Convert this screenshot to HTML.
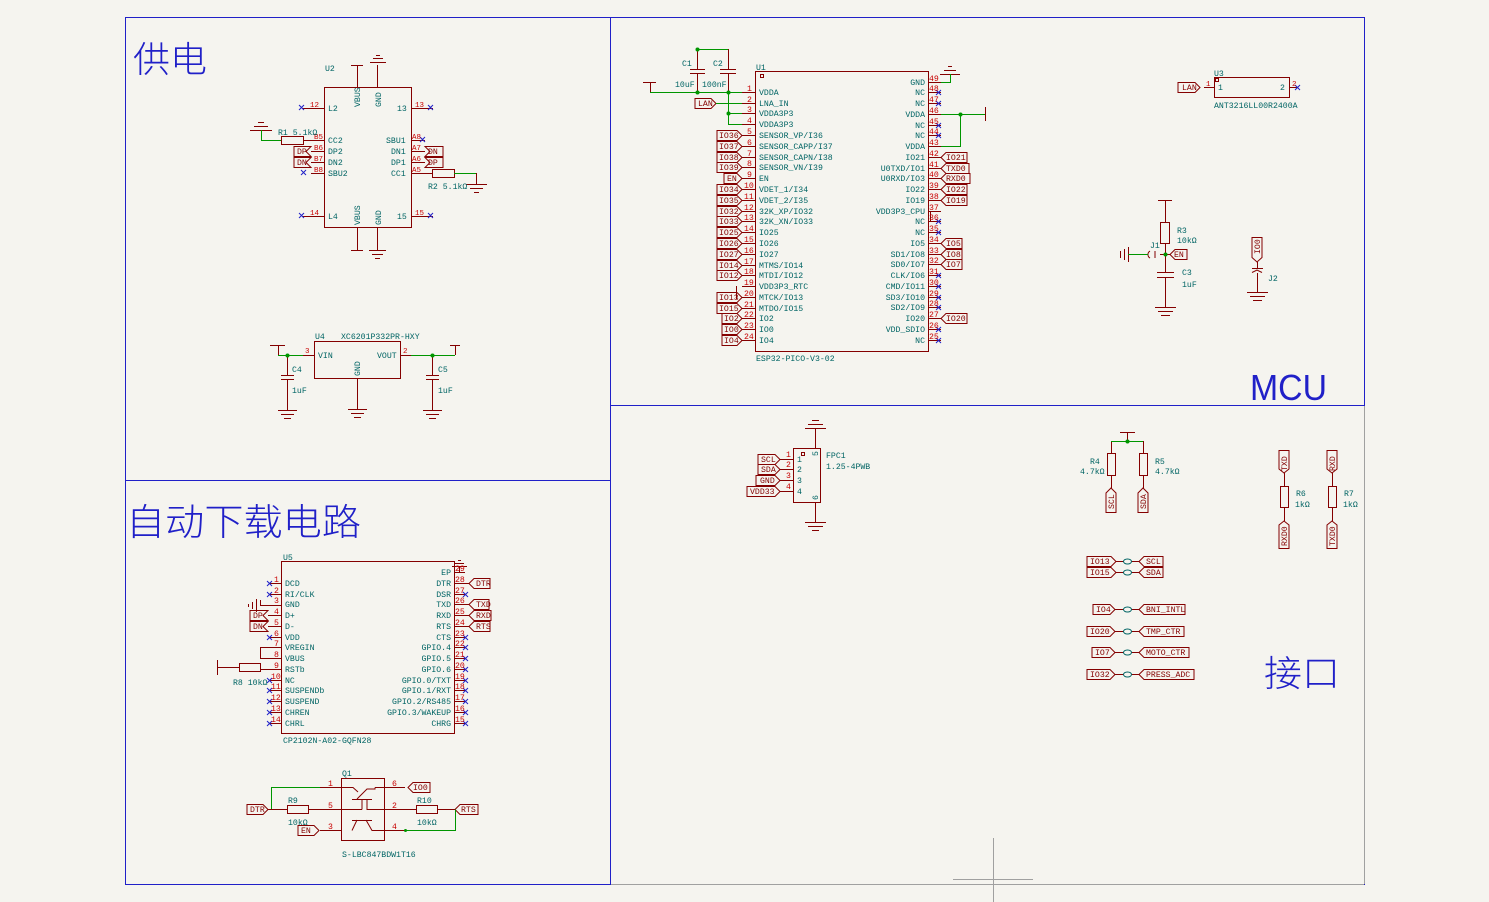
<!DOCTYPE html>
<html><head><meta charset="utf-8"><style>
html,body{margin:0;padding:0;background:#f5f4ef}
svg{display:block}
.o{stroke:#840000;fill:none;stroke-width:1}
.b{stroke:#840000;fill:#f5f4ef;stroke-width:1}
.w{stroke:#009600;fill:none;stroke-width:1}
.f{stroke:#2020c8;fill:none;stroke-width:1}
.g{stroke:#a0a0a0;fill:none;stroke-width:1}
.x{stroke:#2020c8;stroke-width:1}
text{font-family:"Liberation Mono",monospace;font-size:8.2px}
.t{fill:#006464}
.n{fill:#c80000;font-size:7.5px}
.r{fill:#840000}
.T{fill:#2020c8;font-family:"Liberation Sans","Noto Sans CJK SC",sans-serif;font-weight:300}
</style></head><body>
<svg width="1489" height="902" viewBox="0 0 1489 902" xmlns="http://www.w3.org/2000/svg">
<rect width="1489" height="902" fill="#f5f4ef"/>
<!-- frames -->
<rect class="f" x="125.5" y="17.5" width="1239" height="867"/>
<line class="f" x1="610.5" y1="17" x2="610.5" y2="884"/>
<line class="f" x1="125" y1="480.5" x2="610" y2="480.5"/>
<line class="f" x1="610" y1="405.5" x2="1364" y2="405.5"/>
<line class="g" x1="611" y1="884.5" x2="1364" y2="884.5"/>
<line class="g" x1="1364.5" y1="406" x2="1364.5" y2="884"/>
<line class="g" x1="993.5" y1="838" x2="993.5" y2="902"/>
<line class="g" x1="953" y1="879.5" x2="1033" y2="879.5"/>
<text class="T" x="133" y="72" textLength="74" lengthAdjust="spacingAndGlyphs" style="font-size:36px">供电</text>
<text class="T" x="126" y="535" textLength="235" lengthAdjust="spacingAndGlyphs" style="font-size:37px">自动下载电路</text>
<text class="T" x="1250" y="400" textLength="77" lengthAdjust="spacingAndGlyphs" style="font-size:36px">MCU</text>
<text class="T" x="1264" y="686" textLength="76" lengthAdjust="spacingAndGlyphs" style="font-size:36px">接口</text>

<!-- ===== U2 USB-C ===== -->
<rect class="b" x="324.5" y="87.5" width="87" height="140"/>
<text class="t" x="325" y="71">U2</text>
<g class="o">
<path d="M302,108.5H324M302,216.5H324M411,108.5H433M411,216.5H433"/>
<path d="M303,140.5H324M311,151.5H324M311,162.5H324M311,173.5H324M411,140.5H425M411,151.5H425M411,162.5H425M411,173.5H432"/>
<path d="M357.5,65V87M377.5,65V87M357.5,227V250M377.5,227V250"/>
<path d="M351,65.5H363M370,62.5H386M373,58.5H383M376,55.5H380"/>
<path d="M351,250.5H363M369,250.5H386M372,254.5H383M375,258.5H380"/>
<rect x="281.5" y="136.5" width="22" height="8"/><rect x="432.5" y="169.5" width="22" height="8"/>
<path d="M250,130.5H272M254,126.5H268M258,122.5H264M476.5,173V184M466,184.5H487M470,188.5H483M474,192.5H479"/>
<path d="M311,146.5H294V156.5H311L306,151.5ZM311,157.5H294V167.5H311L306,162.5ZM425,146.5H443V156.5H425L430,151.5ZM425,157.5H443V167.5H425L430,162.5Z"/>
</g>
<path class="w" d="M261.5,130V140.5H281"/><path class="w" d="M454,173.5H476"/>
<g class="x"><path d="M299,105l5,5M304,105l-5,5M299,213l5,5M304,213l-5,5M428,105l5,5M433,105l-5,5M428,213l5,5M433,213l-5,5M301,170l5,5M306,170l-5,5M420,137l5,5M425,137l-5,5"/></g>
<text class="t" x="328" y="111">L2</text><text class="t" x="328" y="219">L4</text>
<text class="t" x="397" y="111">13</text><text class="t" x="397" y="219">15</text>
<text class="t" x="328" y="143">CC2</text><text class="t" x="328" y="154">DP2</text><text class="t" x="328" y="165">DN2</text><text class="t" x="328" y="176">SBU2</text>
<text class="t" x="386" y="143">SBU1</text><text class="t" x="391" y="154">DN1</text><text class="t" x="391" y="165">DP1</text><text class="t" x="391" y="176">CC1</text>
<text class="t" transform="translate(360,107) rotate(-90)">VBUS</text><text class="t" transform="translate(381,107) rotate(-90)">GND</text>
<text class="t" transform="translate(360,225) rotate(-90)">VBUS</text><text class="t" transform="translate(381,225) rotate(-90)">GND</text>
<text class="r" x="297" y="154">DP</text><text class="r" x="297" y="165">DN</text><text class="r" x="428" y="154">DN</text><text class="r" x="428" y="165">DP</text>
<text class="n" x="310" y="107">12</text><text class="n" x="310" y="215">14</text><text class="n" x="415" y="107">13</text><text class="n" x="415" y="215">15</text>
<text class="n" x="314" y="139">B5</text><text class="n" x="314" y="150">B6</text><text class="n" x="314" y="161">B7</text><text class="n" x="314" y="172">B8</text>
<text class="n" x="412" y="139">A8</text><text class="n" x="412" y="150">A7</text><text class="n" x="412" y="161">A6</text><text class="n" x="412" y="172">A5</text>
<text class="t" x="278" y="135">R1 5.1kΩ</text><text class="t" x="428" y="189">R2 5.1kΩ</text>

<!-- ===== U4 LDO ===== -->
<rect class="b" x="314.5" y="341.5" width="86" height="37"/>
<text class="t" x="315" y="339">U4</text><text class="t" x="341" y="339">XC6201P332PR-HXY</text>
<text class="t" x="318" y="358">VIN</text><text class="t" x="377" y="358">VOUT</text>
<text class="t" transform="translate(360,376) rotate(-90)">GND</text>
<text class="n" x="305" y="353">3</text><text class="n" x="403" y="353">2</text>
<g class="o">
<path d="M303,355.5H314M400,355.5H411M357.5,378V409M348,409.5H367M351,413.5H364M354,417.5H361"/>
<path d="M287.5,355V375M281,375.5H294M281,379.5H294M287.5,379V410M278,410.5H297M281,414.5H294M284,418.5H291"/>
<path d="M432.5,355V375M426,375.5H439M426,379.5H439M432.5,379V410M423,410.5H442M426,414.5H439M429,418.5H436"/>
<path d="M270,345.5H285M278.5,345V355M450,345.5H460M455.5,345V355"/>
</g>
<path class="w" d="M278,355.5H303M411,355.5H455"/>
<circle cx="287.5" cy="355.5" r="2" fill="#009600"/><circle cx="432.5" cy="355.5" r="2" fill="#009600"/>
<text class="t" x="292" y="372">C4</text><text class="t" x="292" y="393">1uF</text><text class="t" x="438" y="372">C5</text><text class="t" x="438" y="393">1uF</text>

<!-- ===== U5 CP2102 ===== -->
<rect class="b" x="281.5" y="561.5" width="173" height="172"/>
<text class="t" x="283" y="560">U5</text><text class="t" x="283" y="743">CP2102N-A02-GQFN28</text>
<g class="o">
<path d="M270,583.5H281M270,594.5H281M260,605.5H281M268,615.5H281M268,626.5H281M270,637.5H281M260,647.5H281M260,658.5H281M260,669.5H281M270,680.5H281M270,690.5H281M270,701.5H281M270,712.5H281M270,723.5H281"/>
<path d="M454,572.5H465M454,583.5H469M454,594.5H465M454,604.5H469M454,615.5H469M454,626.5H469M454,637.5H465M454,647.5H465M454,658.5H465M454,669.5H465M454,680.5H465M454,690.5H465M454,701.5H465M454,712.5H465M454,723.5H465"/>
<path d="M260.5,647V659M260.5,605V600M256.5,599V612M252.5,602V609M248.5,604V607"/>
<path d="M459.5,572V566M452,566.5H467M455,563.5H464M458,560.5H461"/>
<rect x="239.5" y="663.5" width="21" height="8"/><path d="M217,667.5H239M217.5,660V675"/>
<path d="M268,610.5H250V620.5H268L263,615.5ZM268,621.5H250V631.5H268L263,626.5Z"/>
<path d="M469,583.5L474,578.5H490V588.5H474ZM469,604.5L474,599.5H489V609.5H474ZM469,615.5L474,610.5H491V620.5H474ZM469,626.5L474,621.5H490V631.5H474Z"/>
</g>
<g class="x"><path d="M267,581l5,5M272,581l-5,5M267,592l5,5M272,592l-5,5M267,635l5,5M272,635l-5,5M267,678l5,5M272,678l-5,5M267,688l5,5M272,688l-5,5M267,699l5,5M272,699l-5,5M267,710l5,5M272,710l-5,5M267,721l5,5M272,721l-5,5M463,592l5,5M468,592l-5,5M463,635l5,5M468,635l-5,5M463,645l5,5M468,645l-5,5M463,656l5,5M468,656l-5,5M463,667l5,5M468,667l-5,5M463,678l5,5M468,678l-5,5M463,688l5,5M468,688l-5,5M463,699l5,5M468,699l-5,5M463,710l5,5M468,710l-5,5M463,721l5,5M468,721l-5,5"/></g>
<g class="t">
<text x="285" y="586">DCD</text><text x="285" y="597">RI/CLK</text><text x="285" y="607">GND</text><text x="285" y="618">D+</text><text x="285" y="629">D-</text><text x="285" y="640">VDD</text><text x="285" y="650">VREGIN</text><text x="285" y="661">VBUS</text><text x="285" y="672">RSTb</text><text x="285" y="683">NC</text><text x="285" y="693">SUSPENDb</text><text x="285" y="704">SUSPEND</text><text x="285" y="715">CHREN</text><text x="285" y="726">CHRL</text>
</g>
<g class="t" text-anchor="end">
<text x="451" y="575">EP</text><text x="451" y="586">DTR</text><text x="451" y="597">DSR</text><text x="451" y="607">TXD</text><text x="451" y="618">RXD</text><text x="451" y="629">RTS</text><text x="451" y="640">CTS</text><text x="451" y="650">GPIO.4</text><text x="451" y="661">GPIO.5</text><text x="451" y="672">GPIO.6</text><text x="451" y="683">GPIO.0/TXT</text><text x="451" y="693">GPIO.1/RXT</text><text x="451" y="704">GPIO.2/RS485</text><text x="451" y="715">GPIO.3/WAKEUP</text><text x="451" y="726">CHRG</text>
</g>
<g class="n">
<text x="274" y="582">1</text><text x="274" y="593">2</text><text x="274" y="603">3</text><text x="274" y="614">4</text><text x="274" y="625">5</text><text x="274" y="636">6</text><text x="274" y="646">7</text><text x="274" y="657">8</text><text x="274" y="668">9</text><text x="271" y="679">10</text><text x="271" y="689">11</text><text x="271" y="700">12</text><text x="271" y="711">13</text><text x="271" y="722">14</text>
<text x="455" y="571">29</text><text x="455" y="582">28</text><text x="455" y="593">27</text><text x="455" y="603">26</text><text x="455" y="614">25</text><text x="455" y="625">24</text><text x="455" y="636">23</text><text x="455" y="646">22</text><text x="455" y="657">21</text><text x="455" y="668">20</text><text x="455" y="679">19</text><text x="455" y="689">18</text><text x="455" y="700">17</text><text x="455" y="711">16</text><text x="455" y="722">15</text>
</g>
<g class="r"><text x="253" y="618">DP</text><text x="253" y="629">DN</text><text x="476" y="586">DTR</text><text x="476" y="607">TXD</text><text x="476" y="618">RXD</text><text x="476" y="629">RTS</text></g>
<text class="t" x="233" y="685">R8 10kΩ</text>

<!-- ===== Q1 ===== -->
<rect class="b" x="341.5" y="778.5" width="43" height="62"/>
<text class="t" x="342" y="776">Q1</text><text class="t" x="342" y="857">S-LBC847BDW1T16</text>
<g class="o">
<path d="M320,787.5H341M320,809.5H341M320,830.5H341M384,787.5H405M384,809.5H405M384,830.5H405"/>
<path d="M341,787.5H353L358,792M352,799.5H372M357,799L367,789H375V787.5M362,799.5V809.5M362,809.5H341"/>
<path d="M352,820.5H372M357,820L352,830.5M366,820L372,830.5H384M375,787.5H384M367,799.5V809.5H384"/>
<rect x="287.5" y="805.5" width="21" height="8"/><rect x="416.5" y="805.5" width="21" height="8"/>
<path d="M247,804.5H263L268,809.5L263,814.5H247ZM298,825.5H314L319,830.5L314,835.5H298ZM408,787.5L413,782.5H430V792.5H413ZM455,809.5L460,804.5H478V814.5H460Z"/>
<path d="M268,809.5H287M308,809.5H320M405,809.5H416M437,809.5H455"/>
</g>
<path class="w" d="M271.5,809V787.5H320M455.5,809.5V830.5H405"/>
<circle cx="405.5" cy="830.5" r="1.5" fill="#009600"/>
<g class="n"><text x="328" y="786">1</text><text x="328" y="808">5</text><text x="328" y="829">3</text><text x="392" y="786">6</text><text x="392" y="808">2</text><text x="392" y="829">4</text></g>
<g class="r"><text x="250" y="812">DTR</text><text x="301" y="833">EN</text><text x="413" y="790">IO0</text><text x="461" y="812">RTS</text></g>
<text class="t" x="288" y="803">R9</text><text class="t" x="288" y="825">10kΩ</text><text class="t" x="417" y="803">R10</text><text class="t" x="417" y="825">10kΩ</text>

<!-- ===== U1 ESP32 ===== -->
<rect class="b" x="755.5" y="71.5" width="173" height="280"/>
<rect class="o" x="760.5" y="74.5" width="3" height="3"/>
<text class="t" x="756" y="70">U1</text><text class="t" x="756" y="361">ESP32-PICO-V3-02</text>
<g class="o">
<path d="M742,92.5H755M742,103.5H755M742,113.5H755M742,124.5H755M742,135.5H755M742,146.5H755M742,157.5H755M742,167.5H755M742,178.5H755M742,189.5H755M742,200.5H755M742,211.5H755M742,221.5H755M742,232.5H755M742,243.5H755M742,254.5H755M742,265.5H755M742,275.5H755M742,286.5H755M742,297.5H755M742,308.5H755M742,318.5H755M742,329.5H755M742,340.5H755"/>
<path d="M928,82.5H941M928,92.5H941M928,103.5H941M928,114.5H941M928,125.5H941M928,135.5H941M928,146.5H941M928,157.5H941M928,168.5H941M928,178.5H941M928,189.5H941M928,200.5H941M928,211.5H941M928,221.5H941M928,232.5H941M928,243.5H941M928,254.5H941M928,264.5H941M928,275.5H941M928,286.5H941M928,297.5H941M928,307.5H941M928,318.5H941M928,329.5H941M928,340.5H941"/>
<path d="M930.5,211V222M736.5,286V299"/>
<path d="M717,130.5H737L742,135.5L737,140.5H717ZM717,141.5H737L742,146.5L737,151.5H717ZM717,152.5H737L742,157.5L737,162.5H717ZM717,162.5H737L742,167.5L737,172.5H717ZM724,173.5H737L742,178.5L737,183.5H724ZM717,184.5H737L742,189.5L737,194.5H717ZM717,195.5H737L742,200.5L737,205.5H717ZM717,206.5H737L742,211.5L737,216.5H717ZM717,216.5H737L742,221.5L737,226.5H717ZM717,227.5H737L742,232.5L737,237.5H717ZM717,238.5H737L742,243.5L737,248.5H717ZM717,249.5H737L742,254.5L737,259.5H717ZM717,260.5H737L742,265.5L737,270.5H717ZM717,270.5H737L742,275.5L737,280.5H717ZM717,292.5H737L742,297.5L737,302.5H717ZM717,303.5H737L742,308.5L737,313.5H717ZM722,313.5H737L742,318.5L737,323.5H722ZM722,324.5H737L742,329.5L737,334.5H722ZM722,335.5H737L742,340.5L737,345.5H722Z"/>
<path d="M695,98.5H711L716,103.5L711,108.5H695Z"/>
<path d="M941,157.5L946,152.5H967V162.5H946ZM941,168.5L946,163.5H969V173.5H946ZM941,178.5L946,173.5H970V183.5H946ZM941,189.5L946,184.5H967V194.5H946ZM941,200.5L946,195.5H967V205.5H946ZM941,243.5L946,238.5H962V248.5H946ZM941,254.5L946,249.5H962V259.5H946ZM941,264.5L946,259.5H962V269.5H946ZM941,318.5L946,313.5H967V323.5H946Z"/>
<path d="M690,69.5H705M690,73.5H705M720,69.5H736M720,73.5H736M697.5,49V69M697.5,73V92M728.5,49V69M728.5,73V92"/>
<path d="M643,82.5H656M650.5,82V92M940,74.5H960M944,70.5H956M948,66.5H952M985.5,107V121"/>
</g>
<path class="w" d="M697,49.5H728M650,92.5H742M728.5,92V124.5M728,113.5H742M728,124.5H742M716,103.5H742M941,82.5H950.5V74M941,114.5H985M960.5,114V146.5H941"/>
<g fill="#009600"><circle cx="697.5" cy="92.5" r="2"/><circle cx="728.5" cy="92.5" r="2"/><circle cx="728.5" cy="113.5" r="2"/><circle cx="697.5" cy="49.5" r="2"/><circle cx="960.5" cy="114.5" r="2"/></g>
<g class="x"><path d="M936,90l5,5M941,90l-5,5M936,101l5,5M941,101l-5,5M936,123l5,5M941,123l-5,5M936,133l5,5M941,133l-5,5M936,219l5,5M941,219l-5,5M936,230l5,5M941,230l-5,5M936,273l5,5M941,273l-5,5M936,284l5,5M941,284l-5,5M936,295l5,5M941,295l-5,5M936,305l5,5M941,305l-5,5M936,327l5,5M941,327l-5,5M936,338l5,5M941,338l-5,5"/></g>
<text class="t" x="682" y="66">C1</text><text class="t" x="713" y="66">C2</text><text class="t" x="675" y="87">10uF</text><text class="t" x="702" y="87">100nF</text>
<g class="t">
<text x="759" y="95">VDDA</text><text x="759" y="106">LNA_IN</text><text x="759" y="116">VDDA3P3</text><text x="759" y="127">VDDA3P3</text><text x="759" y="138">SENSOR_VP/I36</text><text x="759" y="149">SENSOR_CAPP/I37</text><text x="759" y="160">SENSOR_CAPN/I38</text><text x="759" y="170">SENSOR_VN/I39</text><text x="759" y="181">EN</text><text x="759" y="192">VDET_1/I34</text><text x="759" y="203">VDET_2/I35</text><text x="759" y="214">32K_XP/IO32</text><text x="759" y="224">32K_XN/IO33</text><text x="759" y="235">IO25</text><text x="759" y="246">IO26</text><text x="759" y="257">IO27</text><text x="759" y="268">MTMS/IO14</text><text x="759" y="278">MTDI/IO12</text><text x="759" y="289">VDD3P3_RTC</text><text x="759" y="300">MTCK/IO13</text><text x="759" y="311">MTDO/IO15</text><text x="759" y="321">IO2</text><text x="759" y="332">IO0</text><text x="759" y="343">IO4</text>
</g>
<g class="t" text-anchor="end">
<text x="925" y="85">GND</text><text x="925" y="95">NC</text><text x="925" y="106">NC</text><text x="925" y="117">VDDA</text><text x="925" y="128">NC</text><text x="925" y="138">NC</text><text x="925" y="149">VDDA</text><text x="925" y="160">IO21</text><text x="925" y="171">U0TXD/IO1</text><text x="925" y="181">U0RXD/IO3</text><text x="925" y="192">IO22</text><text x="925" y="203">IO19</text><text x="925" y="214">VDD3P3_CPU</text><text x="925" y="224">NC</text><text x="925" y="235">NC</text><text x="925" y="246">IO5</text><text x="925" y="257">SD1/IO8</text><text x="925" y="267">SD0/IO7</text><text x="925" y="278">CLK/IO6</text><text x="925" y="289">CMD/IO11</text><text x="925" y="300">SD3/IO10</text><text x="925" y="310">SD2/IO9</text><text x="925" y="321">IO20</text><text x="925" y="332">VDD_SDIO</text><text x="925" y="343">NC</text>
</g>
<g class="n">
<text x="747" y="91">1</text><text x="747" y="102">2</text><text x="747" y="112">3</text><text x="747" y="123">4</text><text x="747" y="134">5</text><text x="747" y="145">6</text><text x="747" y="156">7</text><text x="747" y="166">8</text><text x="747" y="177">9</text><text x="744" y="188">10</text><text x="744" y="199">11</text><text x="744" y="210">12</text><text x="744" y="220">13</text><text x="744" y="231">14</text><text x="744" y="242">15</text><text x="744" y="253">16</text><text x="744" y="264">17</text><text x="744" y="274">18</text><text x="744" y="285">19</text><text x="744" y="296">20</text><text x="744" y="307">21</text><text x="744" y="317">22</text><text x="744" y="328">23</text><text x="744" y="339">24</text>
<text x="929" y="81">49</text><text x="929" y="91">48</text><text x="929" y="102">47</text><text x="929" y="113">46</text><text x="929" y="124">45</text><text x="929" y="134">44</text><text x="929" y="145">43</text><text x="929" y="156">42</text><text x="929" y="167">41</text><text x="929" y="177">40</text><text x="929" y="188">39</text><text x="929" y="199">38</text><text x="929" y="210">37</text><text x="929" y="220">36</text><text x="929" y="231">35</text><text x="929" y="242">34</text><text x="929" y="253">33</text><text x="929" y="263">32</text><text x="929" y="274">31</text><text x="929" y="285">30</text><text x="929" y="296">29</text><text x="929" y="306">28</text><text x="929" y="317">27</text><text x="929" y="328">26</text><text x="929" y="339">25</text>
</g>
<g class="r">
<text x="719" y="138">IO36</text><text x="719" y="149">IO37</text><text x="719" y="160">IO38</text><text x="719" y="170">IO39</text><text x="727" y="181">EN</text><text x="719" y="192">IO34</text><text x="719" y="203">IO35</text><text x="719" y="214">IO32</text><text x="719" y="224">IO33</text><text x="719" y="235">IO25</text><text x="719" y="246">IO26</text><text x="719" y="257">IO27</text><text x="719" y="268">IO14</text><text x="719" y="278">IO12</text><text x="719" y="300">IO13</text><text x="719" y="311">IO15</text><text x="724" y="321">IO2</text><text x="724" y="332">IO0</text><text x="724" y="343">IO4</text>
<text x="698" y="106">LAN</text>
<text x="946" y="160">IO21</text><text x="946" y="171">TXD0</text><text x="946" y="181">RXD0</text><text x="946" y="192">IO22</text><text x="946" y="203">IO19</text><text x="946" y="246">IO5</text><text x="946" y="257">IO8</text><text x="946" y="267">IO7</text><text x="946" y="321">IO20</text>
</g>

<!-- ===== U3 antenna ===== -->
<rect class="b" x="1214.5" y="77.5" width="75" height="20"/>
<rect class="o" x="1215.5" y="78.5" width="3" height="3"/>
<g class="o"><path d="M1204,87.5H1214M1289,87.5H1298M1178,82.5H1195L1200,87.5L1195,92.5H1178Z"/></g>
<path class="x" d="M1295,85l5,5M1300,85l-5,5"/>
<text class="t" x="1214" y="76">U3</text><text class="t" x="1218" y="90">1</text><text class="t" x="1280" y="90">2</text><text class="t" x="1214" y="108">ANT3216LL00R2400A</text>
<text class="n" x="1206" y="86">1</text><text class="n" x="1292" y="86">2</text><text class="r" x="1182" y="90">LAN</text>

<!-- ===== R3/J1/C3 ===== -->
<g class="o">
<path d="M1158,200.5H1172M1165.5,200V222M1165.5,243V272M1165.5,277V307M1157,272.5H1174M1157,277.5H1174M1155,307.5H1176M1158,311.5H1173M1161,315.5H1170"/>
<rect x="1160.5" y="222.5" width="9" height="21"/>
<path d="M1165,254.5H1170M1170,254.5L1175,249.5H1187V259.5H1175Z"/>
<path d="M1150,251A4,4 0 0 0 1150,258M1155,251V258M1160,254.5H1165"/>
<path d="M1128.5,247V262M1124.5,249V260M1120.5,251V258"/>
<path d="M1252,237.5H1262V257.5L1257,262L1252,257.5Z M1257.5,262V268M1252,268.5H1263M1252,272.5L1257,270L1262,272.5M1257.5,273V292M1247,292.5H1268M1250,296.5H1265M1253,300.5H1262"/>
</g>
<path class="w" d="M1128,254.5H1148"/>
<circle cx="1165.5" cy="254.5" r="2" fill="#009600"/>
<text class="t" x="1177" y="233">R3</text><text class="t" x="1177" y="243">10kΩ</text><text class="t" x="1182" y="275">C3</text><text class="t" x="1182" y="287">1uF</text><text class="t" x="1150" y="248">J1</text><text class="t" x="1268" y="281">J2</text>
<text class="r" x="1174" y="257">EN</text><text class="r" transform="translate(1260,254) rotate(-90)">IO0</text>

<!-- ===== FPC1 ===== -->
<rect class="b" x="793.5" y="448.5" width="27" height="54"/>
<rect class="o" x="801.5" y="452.5" width="3" height="3"/>
<g class="o">
<path d="M780,459.5H793M780,469.5H793M780,480.5H793M780,491.5H793M815.5,428V448M815.5,502V522"/>
<path d="M805,428.5H826M808,424.5H823M812,420.5H819M805,522.5H826M808,526.5H823M812,530.5H819"/>
<path d="M758,454.5H775L780,459.5L775,464.5H758ZM758,464.5H775L780,469.5L775,474.5H758ZM756,475.5H775L780,480.5L775,485.5H756ZM747,486.5H775L780,491.5L775,496.5H747Z"/>
</g>
<text class="t" x="797" y="462">1</text><text class="t" x="797" y="472">2</text><text class="t" x="797" y="483">3</text><text class="t" x="797" y="494">4</text>
<text class="t" transform="translate(818,456) rotate(-90)">5</text><text class="t" transform="translate(818,500) rotate(-90)">6</text>
<text class="t" x="826" y="458">FPC1</text><text class="t" x="826" y="469">1.25-4PWB</text>
<g class="n"><text x="786" y="457">1</text><text x="786" y="467">2</text><text x="786" y="478">3</text><text x="786" y="489">4</text></g>
<g class="r"><text x="761" y="462">SCL</text><text x="761" y="472">SDA</text><text x="760" y="483">GND</text><text x="750" y="494">VDD33</text></g>

<!-- ===== R4/R5 ===== -->
<g class="o">
<path d="M1127.5,432V441M1120,432.5H1135M1111.5,441V453M1143.5,441V453M1111.5,475V488M1143.5,475V488"/>
<rect x="1107.5" y="453.5" width="8" height="22"/><rect x="1139.5" y="453.5" width="8" height="22"/>
<path d="M1106,512.5V493L1111,488L1116,493V512.5ZM1138,512.5V493L1143,488L1148,493V512.5Z"/>
</g>
<path class="w" d="M1111,441.5H1143"/><circle cx="1127.5" cy="441.5" r="2" fill="#009600"/>
<text class="t" x="1090" y="464">R4</text><text class="t" x="1080" y="474">4.7kΩ</text><text class="t" x="1155" y="464">R5</text><text class="t" x="1155" y="474">4.7kΩ</text>
<text class="r" transform="translate(1114,509) rotate(-90)">SCL</text><text class="r" transform="translate(1146,509) rotate(-90)">SDA</text>

<!-- ===== R6/R7 ===== -->
<g class="o">
<path d="M1279,450.5H1289V469L1284,473L1279,469ZM1327,450.5H1337V469L1332,473L1327,469Z"/>
<path d="M1284.5,473V486M1332.5,473V486M1284.5,508V521M1332.5,508V521"/>
<rect x="1280.5" y="486.5" width="8" height="21"/><rect x="1328.5" y="486.5" width="8" height="21"/>
<path d="M1279,548.5V525L1284,521L1289,525V548.5ZM1327,548.5V525L1332,521L1337,525V548.5Z"/>
</g>
<text class="t" x="1296" y="496">R6</text><text class="t" x="1295" y="507">1kΩ</text><text class="t" x="1344" y="496">R7</text><text class="t" x="1343" y="507">1kΩ</text>
<text class="r" transform="translate(1287,471) rotate(-90)">TXD</text><text class="r" transform="translate(1335,471) rotate(-90)">RXD</text>
<text class="r" transform="translate(1287,546) rotate(-90)">RXD0</text><text class="r" transform="translate(1335,546) rotate(-90)">TXD0</text>

<!-- ===== net ties ===== -->
<g class="o">
<path d="M1087,556.5H1111L1116,561.5L1111,566.5H1087ZM1087,567.5H1111L1116,572.5L1111,577.5H1087Z"/>
<path d="M1139,561.5L1144,556.5H1163V566.5H1144ZM1139,572.5L1144,567.5H1163V577.5H1144Z"/>
<path d="M1093,604.5H1110L1115,609.5L1110,614.5H1093ZM1139,609.5L1144,604.5H1185V614.5H1144Z"/>
<path d="M1087,626.5H1110L1115,631.5L1110,636.5H1087ZM1139,631.5L1144,626.5H1184V636.5H1144Z"/>
<path d="M1092,647.5H1110L1115,652.5L1110,657.5H1092ZM1139,652.5L1144,647.5H1189V657.5H1144Z"/>
<path d="M1087,669.5H1110L1115,674.5L1110,679.5H1087ZM1139,674.5L1144,669.5H1194V679.5H1144Z"/>
<path d="M1116,561.5H1139M1116,572.5H1139M1115,609.5H1139M1115,631.5H1139M1115,652.5H1139M1115,674.5H1139"/>
</g>
<g stroke="#006464" fill="#f5f4ef"><ellipse cx="1127.5" cy="561.5" rx="4" ry="2.5"/><ellipse cx="1127.5" cy="572.5" rx="4" ry="2.5"/><ellipse cx="1127.5" cy="609.5" rx="4" ry="2.5"/><ellipse cx="1127.5" cy="631.5" rx="4" ry="2.5"/><ellipse cx="1127.5" cy="652.5" rx="4" ry="2.5"/><ellipse cx="1127.5" cy="674.5" rx="4" ry="2.5"/></g>
<g class="r">
<text x="1090" y="564">IO13</text><text x="1090" y="575">IO15</text><text x="1146" y="564">SCL</text><text x="1146" y="575">SDA</text>
<text x="1096" y="612">IO4</text><text x="1146" y="612">BNI_INTL</text>
<text x="1090" y="634">IO20</text><text x="1146" y="634">TMP_CTR</text>
<text x="1095" y="655">IO7</text><text x="1146" y="655">MOTO_CTR</text>
<text x="1090" y="677">IO32</text><text x="1146" y="677">PRESS_ADC</text>
</g>
</svg>
</body></html>
